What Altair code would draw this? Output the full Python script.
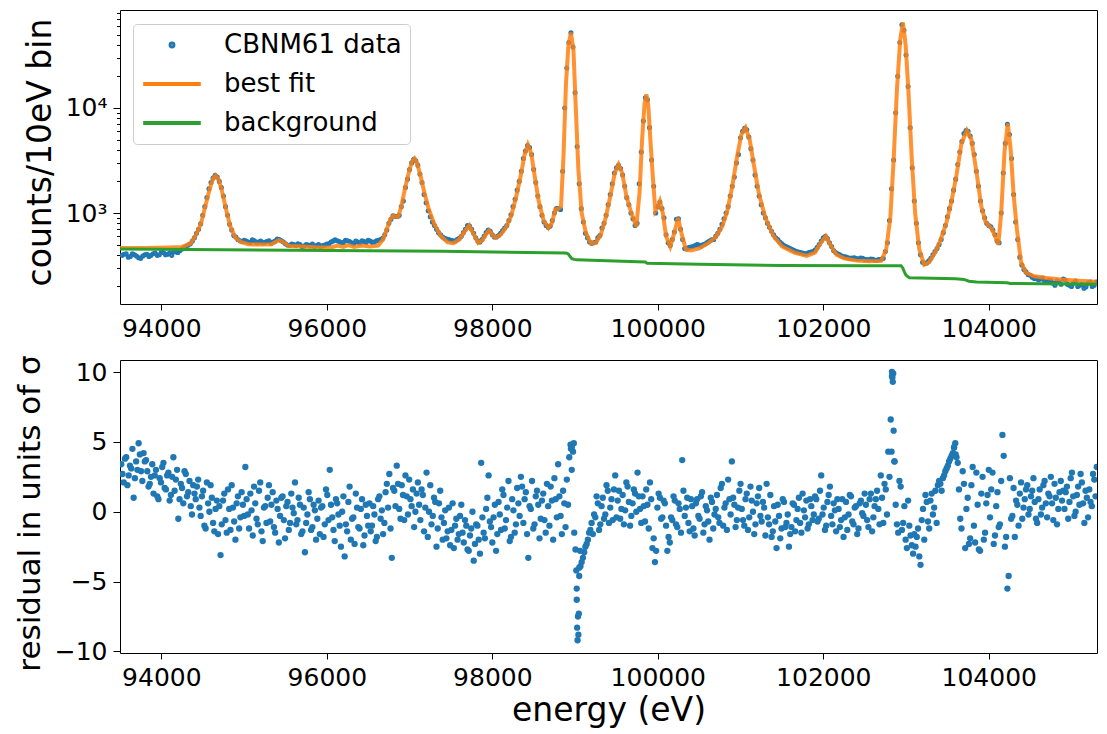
import altair as alt
import pandas as pd

FONT = "DejaVu Sans"
BLUE, ORANGE, GREEN = "#1f77b4", "#ff7f0e", "#2ca02c"

series_names = ["CBNM61 data", "best fit", "background"]
series_colors = [BLUE, ORANGE, GREEN]
DOT_PATH = "M-0.05,0a0.05,0.05 0 1,0 0.1,0a0.05,0.05 0 1,0 -0.1,0"
series_shapes = [DOT_PATH, "stroke", "stroke"]

x_ticks = [94000, 96000, 98000, 100000, 102000, 104000]
x_domain = [93500, 105308]
y_top_domain = [136, 85700]
y_res_domain = [-10.11, 10.86]
y_log_ticks = [200, 300, 400, 500, 600, 700, 800, 900,
               1000, 2000, 3000, 4000, 5000, 6000, 7000, 8000, 9000,
               10000, 20000, 30000, 40000, 50000, 60000, 70000, 80000]
res_ticks = [-10, -5, 0, 5, 10]

# measured spectrum (10 eV bins; two interleaved samplings of the bins)
data_start_a = 93525
data_start_b = 93550
data_step = 50
data_counts_a = [
    395, 410, 385, 400, 375, 390, 405, 395, 415, 400,
    420, 405, 395, 425, 440, 470, 495, 540, 640, 790,
    1150, 1700, 2150, 2200, 1750, 1150, 780, 610, 560, 535,
    540, 525, 545, 530, 520, 535, 515, 540, 560, 530,
    495, 505, 490, 500, 485, 495, 505, 490, 480, 495,
    510, 540, 545, 520, 550, 535, 510, 530, 545, 525,
    540, 530, 550, 575, 690, 870, 930, 950, 1300, 2100,
    3000, 3150, 2350, 1500, 1050, 820, 700, 620, 575, 560,
    545, 560, 600, 700, 750, 640, 540, 560, 650, 670,
    590, 610, 680, 760, 960, 1350, 2000, 3300, 4400, 3600,
    1950, 1150, 820, 730, 850, 1100, 1080, 10000, 42000, 38000,
    4300, 1100, 640, 530, 520, 580, 720, 950, 1500, 2400,
    2850, 2300, 1400, 1000, 760, 1900, 7500, 12000, 3200, 1000,
    1270, 900, 520, 560, 870, 700, 460, 470, 480, 500,
    485, 510, 540, 560, 640, 780, 1000, 1450, 2200, 3600,
    6000, 6200, 4100, 2300, 1450, 1000, 800, 670, 580, 530,
    490, 470, 450, 430, 420, 410, 420, 430, 470, 540,
    600, 520, 440, 410, 390, 380, 370, 375, 365, 370,
    360, 365, 355, 360, 370, 520, 1700, 9000, 42000, 55000,
    16000, 2700, 800, 400, 330, 350, 400, 460, 560, 760,
    1100, 1650, 2900, 4800, 6100, 5400, 3600, 1800, 1050, 800,
    740, 620, 520, 2400, 7000, 3300, 820, 380, 290, 260,
    245, 240, 235, 225, 230, 215, 225, 210, 230, 205,
    215, 200, 210, 198, 220, 205, 195, 212, 205,
]
data_counts_b = [
    405, 380, 410, 390, 370, 400, 385, 410, 395, 425,
    400, 415, 430, 420, 455, 480, 510, 580, 700, 950,
    1400, 1950, 2280, 2000, 1450, 950, 690, 590, 545, 550,
    530, 555, 520, 540, 525, 545, 530, 565, 545, 510,
    490, 500, 510, 480, 500, 490, 480, 500, 490, 505,
    530, 555, 535, 525, 545, 520, 540, 515, 535, 550,
    525, 545, 560, 620, 800, 940, 925, 1150, 1750, 2600,
    3250, 2850, 1950, 1250, 920, 760, 650, 590, 565, 550,
    540, 575, 650, 760, 700, 580, 530, 600, 690, 620,
    590, 640, 720, 850, 1150, 1650, 2500, 3900, 4200, 2600,
    1450, 950, 760, 750, 1000, 1100, 2500, 24000, 52000, 14000,
    1900, 820, 580, 515, 530, 610, 800, 1200, 1900, 2700,
    2650, 1800, 1200, 880, 800, 3800, 12500, 6500, 1800, 1150,
    1100, 620, 490, 660, 880, 560, 455, 475, 490, 495,
    500, 525, 555, 600, 700, 880, 1150, 1800, 3000, 5200,
    6400, 5300, 3200, 1800, 1200, 900, 730, 620, 560, 510,
    480, 460, 440, 425, 415, 412, 425, 445, 500, 580,
    570, 480, 420, 400, 385, 375, 372, 368, 372, 362,
    358, 362, 356, 362, 430, 850, 3200, 20000, 62000, 32000,
    6500, 1300, 520, 340, 335, 370, 430, 500, 650, 920,
    1300, 2100, 3800, 5700, 6000, 4600, 2500, 1300, 900, 760,
    690, 540, 1000, 4600, 5600, 1500, 560, 320, 275, 255,
    238, 232, 240, 218, 228, 205, 220, 235, 210, 200,
    225, 205, 192, 215, 200, 220, 202, 190,
]

fit_energy = [
    93500, 93800, 94100, 94250, 94350, 94420, 94480, 94530, 94580, 94620,
    94655, 94690, 94730, 94780, 94830, 94890, 94960, 95050, 95200, 95330,
    95420, 95470, 95540, 95700, 95900, 96050, 96130, 96200, 96260, 96330,
    96420, 96520, 96620, 96680, 96730, 96770, 96800, 96830, 96860, 96900,
    96950, 97000, 97030, 97060, 97090, 97130, 97180, 97230, 97300, 97380,
    97460, 97530, 97600, 97660, 97720, 97770, 97830, 97880, 97930, 97960,
    98000, 98040, 98100, 98170, 98230, 98290, 98340, 98390, 98430, 98470,
    98510, 98560, 98620, 98680, 98720, 98760, 98800, 98830, 98860, 98890,
    98920, 98950, 98980, 99010, 99040, 99080, 99130, 99190, 99250, 99310,
    99370, 99430, 99480, 99525, 99570, 99620, 99680, 99740, 99780, 99810,
    99840, 99862, 99885, 99910, 99940, 99970, 100000, 100025, 100060, 100100,
    100150, 100200, 100245, 100290, 100340, 100400, 100500, 100600, 100700, 100780,
    100840, 100900, 100960, 101010, 101060, 101110, 101160, 101220, 101300, 101400,
    101500, 101650, 101800, 101900, 101970, 102030, 102090, 102160, 102250, 102400,
    102550, 102700, 102760, 102810, 102850, 102890, 102930, 102962, 102995, 103030,
    103070, 103110, 103160, 103220, 103280, 103350, 103420, 103490, 103550, 103610,
    103670, 103735, 103790, 103850, 103910, 103960, 103995, 104040, 104080, 104115,
    104150, 104190, 104230, 104265, 104300, 104340, 104390, 104450, 104550, 104700,
    104900, 105100, 105300,
]
fit_counts = [
    465, 465, 470, 475, 510, 620, 800, 1150, 1650, 2100,
    2280, 2100, 1650, 1100, 760, 590, 530, 505, 500, 505,
    550, 530, 485, 480, 470, 470, 490, 475, 495, 475,
    490, 480, 490, 560, 720, 880, 940, 925, 920, 1150,
    1800, 2600, 3100, 3300, 3000, 2300, 1550, 1100, 780, 600,
    525, 515, 560, 660, 760, 640, 520, 550, 640, 680,
    620, 580, 620, 740, 950, 1450, 2200, 3600, 4450, 3700,
    2300, 1300, 850, 720, 800, 1080, 1100, 1150, 3500, 17000,
    40000, 52000, 36000, 9500, 2600, 1000, 650, 515, 520, 620,
    900, 1500, 2400, 2900, 2400, 1450, 1000, 740, 1600, 5000,
    11000, 13500, 10500, 5000, 2200, 1050, 1150, 1290, 1000, 600,
    480, 650, 900, 620, 450, 440, 460, 510, 590, 750,
    1050, 1800, 3500, 5600, 6500, 5000, 2900, 1550, 900, 600,
    480, 420, 390, 420, 520, 600, 490, 400, 370, 352,
    348, 350, 450, 900, 3200, 15000, 45000, 65000, 40000, 14000,
    3200, 1000, 450, 322, 340, 420, 560, 820, 1300, 2300,
    4600, 6100, 5000, 2500, 1150, 830, 770, 700, 590, 500,
    1000, 3800, 7100, 4000, 1500, 700, 340, 270, 250, 240,
    232, 226, 222,
]

bkg_energy = [93500, 97400, 98880, 98900, 98920, 98940, 98960, 98990, 99020,
              99850, 99870, 100500, 101500, 102500, 102940, 102960, 102980,
              103000, 103040, 103600, 103700, 103760, 103850, 104220, 104260, 105300]
bkg_counts = [455, 432, 416, 414, 405, 385, 368, 362, 358,
              342, 332, 325, 316, 314, 314, 300, 275,
              255, 242, 236, 233, 224, 220, 217, 213, 210]

# residuals (two interleaved samplings, every 30 eV each)
res_start_a = 93515
res_start_b = 93530
res_step = 30
residuals_a = [
    3.4, 2.1, 3.9, 2.6, 3.1, 1.0, 3.6, 4.9, 2.9, 4.2,
    3.7, 1.8, 2.5, 1.3, 3.0, 0.9, 2.1, 3.5, 1.6, 2.8,
    1.2, 3.9, 2.3, -0.5, 2.0, 0.6, 2.7, 1.4, 0.4, 1.9,
    0.9, 2.3, -0.3, 1.5, -1.2, 0.6, 1.9, -0.8, 0.2, -1.6,
    -3.1, 0.8, -0.6, 1.6, -1.3, 0.3, -2.0, 1.1, -0.4, 0.5,
    3.2, -0.2, 1.3, -1.7, 0.6, -0.9, 2.1, -2.1, 0.4, 1.0,
    -0.7, 1.4, -1.5, 0.2, -0.3, 1.1, -1.9, 0.7, -0.8, 0.3,
    2.1, -0.6, 0.5, -1.4, -2.9, -0.2, 0.9, -1.1, 0.1, -0.5,
    -1.6, 0.4, -0.9, 1.2, 3.0, -0.4, -2.1, 0.6, -1.0, 0.0,
    -3.2, -1.4, 1.8, -0.5, -2.3, 0.3, -1.2, 0.9, -1.7, -0.3,
    0.6, -1.0, -0.2, -1.8, 1.1, 0.1, -0.8, 2.0, 2.7, -3.3,
    1.5, 3.3, 0.2, 1.9, -0.6, 1.1, 2.3, 0.4, -1.1, 1.3,
    0.5, 1.6, -1.4, 2.8, 0.0, -0.9, 1.0, -2.5, 0.6, -0.4,
    -0.8, -1.9, 0.3, -1.3, -2.6, -0.5, -1.6, 0.5, -2.2, -1.0,
    -2.8, -1.2, -3.5, -0.9, -2.0, 3.5, -1.5, 0.2, 2.6, -1.1,
    -0.4, -2.8, 0.7, -1.3, 1.2, -0.6, 2.2, -1.8, 0.1, -0.9,
    0.6, 2.5, -0.8, 1.4, -3.3, 0.2, -1.2, 1.1, 0.5, -0.5,
    1.3, -1.5, 0.4, 1.8, -2.0, 0.9, 3.4, -0.3, 1.5, -1.1,
    0.5, 4.8, 4.3, -2.7, -7.5, -3.9, -3.3, -2.5, -2.0, -1.3,
    -1.6, -0.4, 0.6, -0.9, 1.0, -0.2, 1.5, 0.3, -0.6, 2.6,
    0.8, -0.5, 1.2, 0.1, 1.8, -1.0, 0.6, 1.3, 2.8, 0.2,
    1.1, -0.7, 0.5, 2.1, -2.6, -3.6, 0.3, 1.0, -0.4, 0.6,
    -2.8, -2.2, -0.6, 0.8, -1.1, 0.2, 3.7, -0.3, 1.0, -1.4,
    0.4, -1.7, 0.9, -0.5, 1.4, -0.9, 0.1, -2.0, 0.7, -0.2,
    1.2, -0.8, 2.0, 0.3, -1.3, 0.9, 3.6, 0.5, -0.6, 1.5,
    0.2, -1.0, 1.3, -0.4, 0.8, -1.6, 0.6, 1.7, -0.7, 0.3,
    2.0, -0.9, -1.8, 0.4, -2.6, -0.3, -1.2, 0.7, -0.8, -2.5,
    -1.1, 0.5, -0.6, 1.0, -1.5, 0.1, 0.8, -0.9, 0.4, -0.2,
    0.9, -0.5, 2.6, 0.3, -1.0, 1.2, -0.3, 0.6, -1.4, 0.2,
    -0.6, -1.8, 0.7, -0.2, 1.1, -0.9, 0.4, -1.2, 0.8, -0.3,
    0.5, -1.1, 1.3, -0.4, 0.9, 0.2, 2.6, -0.8, 1.6, 4.3,
    6.6, 9.9, 0.5, -1.5, 1.8, -0.8, -2.0, 0.8, -1.7, -3.0,
    -2.5, -1.2, -3.8, 0.2, 1.2, -0.7, 0.8, -0.2, 1.5, 1.9,
    2.0, 2.4, 2.9, 3.3, 3.8, 4.2, 4.9, 3.5, -0.5, 2.9,
    -2.6, 1.0, -1.9, 3.2, -2.2, 0.5, -2.8, 2.5, -1.5, 1.2,
    -0.4, 2.8, -1.7, 1.4, -0.9, 5.5, -2.5, -5.5, 2.4, -0.3,
    -1.8, 0.5, 1.3, -0.5, 0.9, 1.9, 0.2, 1.5, 0.7, -0.8,
    1.6, 0.3, 2.2, -0.4, 1.1, 0.6, 2.0, -0.9, 1.4, 0.8,
    0.2, 1.8, 0.7, 2.8, -0.3, 1.2, 0.5, 2.1, -0.8, 1.0,
    1.6, 0.4, 2.3, 3.2, 0.1, 1.3, -0.6, 1.9,
]
residuals_b = [
    2.7, 3.8, 1.9, 3.3, 4.5, 2.4, 3.0, 4.1, 2.2, 3.6,
    2.9, 2.0, 3.4, 2.6, 1.1, 2.4, 3.2, 1.7, 2.6, 0.8,
    2.5, 1.5, 3.0, 0.9, 1.7, 2.9, 1.1, 2.2, -0.2, 1.3,
    1.8, 0.3, 1.1, -1.0, 2.1, 0.0, 1.0, -1.4, 0.8, 0.4,
    -0.9, 1.3, -1.5, 0.2, 1.9, -0.7, 0.6, -1.2, 1.4, -0.3,
    0.9, -1.2, 0.1, 1.8, -0.5, 1.5, -1.4, 0.3, -0.8, 1.9,
    0.5, -1.1, 0.8, -2.2, 1.0, -0.6, 0.4, -1.3, 1.3, -0.1,
    -0.9, 1.0, -1.6, 0.3, -0.8, 1.4, -1.3, 0.5, -2.0, 0.8,
    0.3, -1.8, 1.6, -0.6, 0.5, -1.3, 0.9, -0.2, -2.5, 1.1,
    -0.9, 0.7, -2.0, -0.4, 1.3, -1.1, 0.2, -2.4, 0.5, -1.0,
    -1.4, 0.4, -2.1, 0.9, -0.5, -1.6, 1.4, 0.3, -1.2, 1.7,
    0.4, 2.0, -0.5, 1.2, 2.6, -0.2, 0.9, 1.6, 0.0, 2.1,
    -0.6, 1.2, 0.3, -1.8, 1.9, -0.3, 0.7, -1.2, 1.5, -2.0,
    0.1, -1.4, -2.4, 0.6, -1.0, -2.0, -0.3, -1.5, -0.6, -2.7,
    -1.7, 0.0, -2.3, -1.0, -3.0, -0.4, -1.9, 1.0, -0.7, -2.2,
    0.5, -1.6, -0.2, 1.6, -1.2, 0.3, -2.1, 0.9, -1.5, 1.7,
    -0.3, 1.8, 0.9, -1.6, 0.4, 2.2, -0.9, 1.5, -1.9, 0.8,
    -0.6, 2.0, -1.0, 0.8, 2.4, -0.4, 1.1, -1.6, 0.6, 2.3,
    3.9, 4.6, -1.5, -5.5, -4.6, -3.6, -2.9, -2.3, -1.5, -0.8,
    -0.2, 1.1, -1.3, 0.4, -0.5, 1.9, -0.8, 0.9, 1.6, -0.4,
    1.5, 0.2, -0.9, 2.1, 0.7, -0.3, 1.6, 0.0, 1.1, -0.8,
    0.4, 1.6, -1.2, 0.9, -1.9, -2.8, 1.3, -0.5, 0.8, -1.0,
    -1.8, -0.4, 1.1, -0.9, 0.6, -1.5, 1.5, 0.3, -0.8, 0.9,
    -1.2, 0.6, -0.3, 1.1, -1.5, 0.4, -0.7, 1.0, -1.2, 0.2,
    -0.4, 1.7, -1.0, 0.6, 2.3, -0.2, 1.0, -1.1, 0.3, 2.0,
    -0.6, 0.9, -1.3, 1.8, 0.0, -0.9, 1.1, -0.3, 0.7, -1.7,
    -0.4, 1.2, -1.4, -0.7, 0.5, -1.9, 0.9, -1.1, -0.2, -1.6,
    0.6, -1.4, 0.2, -0.8, 1.3, -0.4, -1.2, 0.9, -0.6, 1.1,
    -0.7, 1.5, -0.2, -1.3, 0.7, 1.8, -0.9, 0.1, 0.9, -1.1,
    0.9, -0.4, -1.3, 1.2, -0.7, 0.3, -1.6, 0.6, -0.1, 1.3,
    -0.6, 0.9, -1.4, 0.4, 1.5, -0.9, 1.0, 2.0, -0.2, 2.5,
    9.7, 3.6, -0.9, 2.2, -1.3, 0.4, -2.6, -1.0, -2.4, -1.6,
    -1.8, -3.2, -0.6, -2.0, 0.7, -1.2, 1.3, 0.3, -0.8, 2.2,
    1.5, 2.6, 3.1, 3.6, 4.0, 4.6, 3.9, 1.6, -1.2, 2.0,
    0.2, -2.3, 1.9, -1.0, 2.8, -2.7, 1.3, -2.0, 0.6, 3.0,
    1.6, -2.3, 0.4, -1.1, 2.2, 4.0, -1.8, -4.6, -0.5, 1.7,
    0.8, -1.0, 2.1, 0.3, 1.6, -0.2, 1.1, 2.4, -0.5, 0.9,
    -0.2, 1.9, 0.6, 1.3, 2.5, -0.6, 1.0, 0.2, 2.2, 1.5,
    1.4, -0.5, 2.4, 1.1, 0.0, 1.8, 2.7, 0.6, 1.5, -0.4,
    0.7, 2.7, 1.1, -0.2, 2.0, 0.9, 2.6, 0.3,
]
res_extra_energy = [98950, 98960, 98985, 99015, 99020, 99025, 99030, 99040, 99045,
                    99050, 99060, 102825, 102830, 102835, 102840, 102850, 102860,
                    103580, 103600]
res_extra = [4.5, 3.0, 4.9, -4.2, -6.3, -8.3, -9.2, -8.8, -7.3,
             -4.0, -2.8, 4.3, 10.0, 9.6, 9.3, 5.8, 3.6, 4.6, 4.1]

# ---------- tables ----------
data_energy = ([data_start_a + data_step * i for i in range(len(data_counts_a))]
               + [data_start_b + data_step * i for i in range(len(data_counts_b))])
df_data = pd.DataFrame({
    "energy": data_energy,
    "counts": data_counts_a + data_counts_b,
    "series": series_names[0],
})
df_data = df_data[df_data["energy"] <= x_domain[1]]
df_fit = pd.DataFrame({"energy": fit_energy, "counts": fit_counts, "series": series_names[1]})
df_bkg = pd.DataFrame({"energy": bkg_energy, "counts": bkg_counts, "series": series_names[2]})
res_energy = ([res_start_a + res_step * i for i in range(len(residuals_a))]
              + [res_start_b + res_step * i for i in range(len(residuals_b))]
              + res_extra_energy)
df_res = pd.DataFrame({"energy": res_energy, "residual": residuals_a + residuals_b + res_extra})
df_res = df_res[df_res["energy"] <= x_domain[1]]

# ---------- scales / axes ----------
xscale = alt.Scale(domain=x_domain, nice=False, zero=False)
ylog = alt.Scale(type="log", domain=y_top_domain, nice=False)
color_scale = alt.Scale(domain=series_names, range=series_colors)
shape_scale = alt.Scale(domain=series_names, range=series_shapes)

legend = alt.Legend(
    title=None, orient="none", legendX=13, legendY=14,
    labelFont=FONT, labelFontSize=26, labelColor="black", labelLimit=0,
    symbolSize=3318, symbolStrokeWidth=4, symbolFillColor="transparent",
    fillColor="rgba(255,255,255,0.8)", strokeColor="#cccccc", cornerRadius=4,
    padding=8, rowPadding=13, clipHeight=26, labelOffset=21,
)

major_test = "datum.value == 1000 || datum.value == 10000"

x_top_axis = alt.Axis(values=x_ticks, format="d", title=None, tickSize=6, labelPadding=6)
x_bot_axis = alt.Axis(values=x_ticks, format="d", title="energy (eV)", tickSize=6,
                      labelPadding=6, titlePadding=4)

y_top_axis = alt.Axis(
    values=y_log_ticks,
    labelExpr="datum.value == 1000 ? '10\u00b3' : datum.value == 10000 ? '10\u2074' : ''",
    labelFontSize={"condition": {"test": major_test, "value": 25}, "value": 0},
    tickSize={"condition": {"test": major_test, "value": 7}, "value": 3.5},
    labelPadding=6, title="counts/10eV bin", titlePadding=8, titleY=142,
)
y_res_axis = alt.Axis(values=res_ticks, tickSize=7, labelPadding=6,
                      title="residual in units of \u03c3", titleFontSize=31,
                      titlePadding=8, titleY=153)

X_top = alt.X("energy:Q", scale=xscale, axis=x_top_axis)
Y_top = alt.Y("counts:Q", scale=ylog, axis=y_top_axis)

points = alt.Chart(df_data).mark_point(filled=False, strokeWidth=2.2, size=3318, opacity=1, clip=True).encode(
    x=X_top, y=Y_top,
    color=alt.Color("series:N", scale=color_scale, legend=legend),
    shape=alt.Shape("series:N", scale=shape_scale, legend=legend),
)
fit = alt.Chart(df_fit).mark_line(strokeWidth=4, opacity=0.85, clip=True).encode(
    x=X_top, y=Y_top,
    color=alt.Color("series:N", scale=color_scale, legend=legend),
)
bkg = alt.Chart(df_bkg).mark_line(strokeWidth=3, clip=True).encode(
    x=X_top, y=Y_top,
    color=alt.Color("series:N", scale=color_scale, legend=legend),
)
top = alt.layer(points, fit, bkg).properties(width=977, height=294)

bottom = alt.Chart(df_res).mark_circle(size=40, color=BLUE, opacity=1, clip=True).encode(
    x=alt.X("energy:Q", scale=xscale, axis=x_bot_axis),
    y=alt.Y("residual:Q", scale=alt.Scale(domain=y_res_domain, nice=False, zero=False), axis=y_res_axis),
).properties(width=977, height=293)

chart = alt.vconcat(top, bottom, spacing=12).properties(
    padding={"left": 5, "top": 1, "right": 0, "bottom": 0}
).configure_view(
    stroke="black", strokeWidth=1
).configure_axis(
    labelFont=FONT, labelFontSize=25, labelColor="black",
    titleFont=FONT, titleFontSize=33, titleFontWeight="normal", titleColor="black",
    tickColor="black", tickWidth=1, domain=False, grid=False,
)

chart.save("out.html", embed_options={"renderer": "svg", "actions": False})
